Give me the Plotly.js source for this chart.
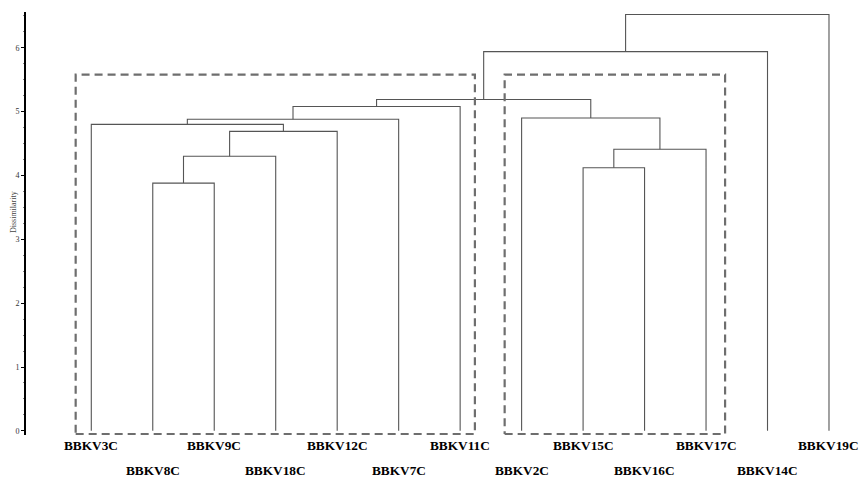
<!DOCTYPE html>
<html>
<head>
<meta charset="utf-8">
<script src="https://cdn.plot.ly/plotly-3.0.1.min.js"></script>
<style>html,body{margin:0;padding:0;background:#fff;}#chart{width:862px;height:478px;}</style>
</head>
<body>
<div id="chart"></div>
<script>
// Leaf order (left to right)
const leaves = ['BBKV3C','BBKV8C','BBKV9C','BBKV18C','BBKV12C','BBKV7C','BBKV11C','BBKV2C','BBKV15C','BBKV16C','BBKV17C','BBKV14C','BBKV19C'];
// Linkage: cluster ids 0..12 are leaves, merges create ids 13, 14, ...
const mergeLeft   = [1, 13, 14, 0, 16, 17, 8, 19, 7, 18, 22, 23];
const mergeRight  = [2, 3, 4, 15, 5, 6, 9, 10, 20, 21, 11, 12];
const mergeHeight = [3.88, 4.30, 4.69, 4.80, 4.88, 5.08, 4.12, 4.41, 4.90, 5.19, 5.94, 6.52];
// Highlighted cluster boxes (leaf-index units / dissimilarity)
const boxX0 = [-0.254, 6.724];
const boxX1 = [6.24, 10.31];
const boxTop = [5.58, 5.58];
const boxBottom = [-0.05, -0.05];
const yTicks = [0, 1, 2, 3, 4, 5, 6];

const pos = leaves.map((_, i) => i);
const hgt = leaves.map(() => 0);
const lx = [], ly = [];
mergeLeft.forEach((a, k) => {
  const b = mergeRight[k], h = mergeHeight[k];
  lx.push(pos[a], pos[a], pos[b], pos[b], null);
  ly.push(hgt[a], h, h, hgt[b], null);
  pos.push((pos[a] + pos[b]) / 2);
  hgt.push(h);
});

const traces = [{
  x: lx, y: ly, type: 'scatter', mode: 'lines',
  line: {color: '#555555', width: 1.1}, hoverinfo: 'skip', connectgaps: false
}];
boxX0.forEach((x0, i) => {
  traces.push({
    x: [x0, boxX1[i], boxX1[i], x0, x0],
    y: [boxBottom[i], boxBottom[i], boxTop[i], boxTop[i], boxBottom[i]],
    type: 'scatter', mode: 'lines', cliponaxis: false,
    line: {color: '#6e6e6e', width: 2.2, dash: '8px,5px'}, hoverinfo: 'skip'
  });
});

const plotTop = 12, plotBottom = 434.9, plotH = plotBottom - plotTop;
const serif = 'Liberation Serif, Times New Roman, serif';
const annotations = leaves.map((name, i) => ({
  text: '<b>' + name + '</b>', x: i, xref: 'x', y: 0, yref: 'paper',
  yanchor: 'middle', xanchor: 'center', showarrow: false,
  yshift: (i % 2 === 0) ? -10.5 : -35,
  font: {family: serif, size: 13.3, color: '#000'}
}));
annotations.push({
  text: 'Dissimilarity', xref: 'paper', yref: 'paper',
  x: (13 - 26) / 836, y: (plotBottom - 212) / plotH, xanchor: 'center', yanchor: 'middle',
  textangle: -90, showarrow: false, font: {family: serif, size: 8, color: '#444'}
});

const layout = {
  width: 862, height: 478,
  margin: {l: 26, r: 0, t: plotTop, b: 478 - plotBottom},
  paper_bgcolor: '#fff', plot_bgcolor: '#fff',
  showlegend: false,
  xaxis: {range: [-1.062, 12.537], showgrid: false, zeroline: false, showline: false,
          showticklabels: false, ticks: '', fixedrange: true},
  yaxis: {range: [-0.065, 6.56], showgrid: false, zeroline: false, showline: true,
          linecolor: '#000', linewidth: 2, ticks: 'outside', ticklen: 3, tickwidth: 1,
          tickcolor: '#000', tickvals: yTicks, automargin: false,
          minor: {dtick: 0.25, ticks: 'outside', ticklen: 1.5, tickwidth: 0.8, tickcolor: '#666', showgrid: false},
          tickfont: {family: serif, size: 8, color: '#333'}},
  annotations: annotations
};
Plotly.newPlot('chart', traces, layout, {displayModeBar: false, staticPlot: true});
</script>
</body>
</html>
